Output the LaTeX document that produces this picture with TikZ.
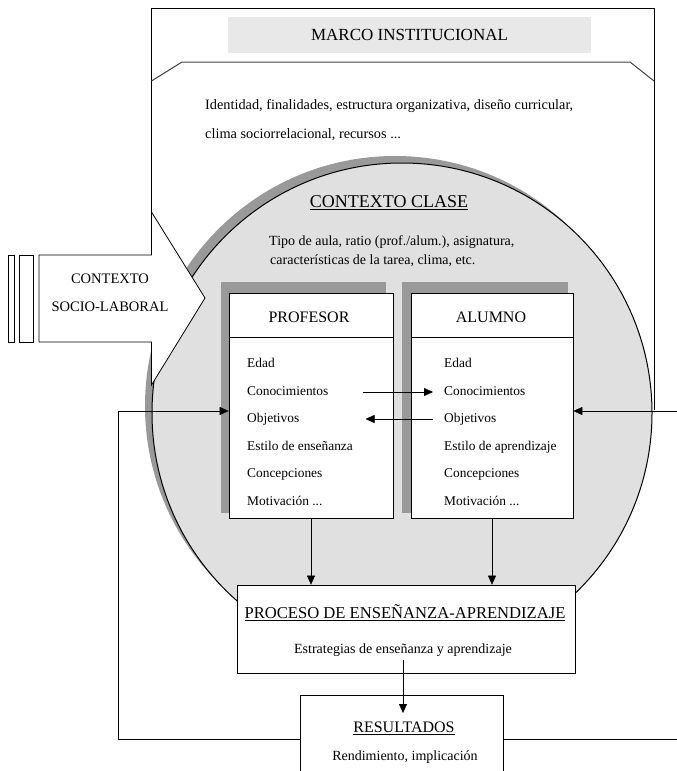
\documentclass[tikz,border=0pt]{standalone}
\usepackage{fontspec}
\setmainfont{Liberation Serif}
\usetikzlibrary{arrows.meta}
\definecolor{sombra}{gray}{0.6}
\definecolor{fondo}{gray}{0.88}
\definecolor{titulo}{gray}{0.91}
\begin{document}
\begin{tikzpicture}[x=1pt,y=-1pt,
    flecha/.style={-{Triangle[length=9pt,width=8pt]}},
    caja/.style={draw,fill=white,line width=0.8pt},
    item/.style={anchor=west,inner sep=0pt,text height=9pt,text depth=3pt,font=\fontsize{13.4}{15}\selectfont},
    titulo/.style={font=\fontsize{16}{18}\selectfont}]
\useasboundingbox (0,0) rectangle (677,771);

% marco institucional
\draw[line width=0.8pt] (151.5,212) -- (151.5,8) -- (654,8) -- (654,410);
\node[titulo,fill=titulo,minimum width=363pt,minimum height=36pt,font=\fontsize{17}{19}\selectfont] (marco) at (409.5,35) {MARCO INSTITUCIONAL};
\draw[line width=1pt,black!75] (151.5,81) -- (182,62) -- (630,62) -- (654,81);
\node[item,font=\fontsize{14.3}{16}\selectfont] (ident1) at (205,106) {Identidad, finalidades, estructura organizativa, diseño curricular,};
\node[item,font=\fontsize{14.3}{16}\selectfont] (ident2) at (205,135) {clima sociorrelacional, recursos ...};

% contexto clase
\fill[sombra] (395,406) circle (250);
\filldraw[fill=fondo,draw=black,line width=1pt] (402,413) circle (250);
\node[font=\fontsize{18}{20}\selectfont] (clase) at (389,203) {\underline{CONTEXTO CLASE}};
\node[item,font=\fontsize{14}{16}\selectfont] (tipo1) at (269,242) {Tipo de aula, ratio (prof./alum.), asignatura,};
\node[item,font=\fontsize{14}{16}\selectfont] (tipo2) at (270,261) {características de la tarea, clima, etc.};

% profesor
\fill[sombra] (221,282) rectangle (386,513);
\node[caja,minimum width=164pt,minimum height=225pt] (prof) at (311,405.5) {};
\coordinate (cab) at (0,337);
\draw (prof.west |- cab) -- (prof.east |- cab);
\node[titulo] (profT) at (309,317) {PROFESOR};
\node[item] (pedad) at (247,364) {Edad};
\node[item] (pcon) at (247,392) {Conocimientos};
\node[item] (pobj) at (247,419) {Objetivos};
\node[item] (pest) at (247,447) {Estilo de enseñanza};
\node[item] (pcnc) at (247,474) {Concepciones};
\node[item] (pmot) at (247,502) {Motivación ...};

% alumno
\fill[sombra] (402,282) rectangle (568,513);
\node[caja,minimum width=162pt,minimum height=225pt] (alum) at (492,405.5) {};
\draw (alum.west |- cab) -- (alum.east |- cab);
\node[titulo] (alumT) at (491,317) {ALUMNO};
\node[item] (aedad) at (444,364) {Edad};
\node[item] (acon) at (444,392) {Conocimientos};
\node[item] (aobj) at (444,419) {Objetivos};
\node[item] (aest) at (444,447) {Estilo de aprendizaje};
\node[item] (acnc) at (444,474) {Concepciones};
\node[item] (amot) at (444,502) {Motivación ...};

\draw[flecha] (pcon.east) [shorten <=34pt,shorten >=11pt] -- (acon.west);
\draw[flecha] (aobj.west) [shorten <=11pt,shorten >=66pt] -- (pobj.east);

% contexto socio-laboral
\draw[fill=white,line width=0.8pt] (39,255) -- (151.5,255) -- (151.5,212) -- (205,298)
    -- (151.5,385) -- (151.5,342) -- (39,342) -- cycle;
\draw (8,255) rectangle (14,342);
\draw (19,255) rectangle (33,342);
\node[align=center,font=\fontsize{14.5}{28}\selectfont] (socio) at (110,293) {CONTEXTO\\SOCIO-LABORAL};

% proceso y resultados
\node[caja,minimum width=338pt,minimum height=88pt] (proceso) at (406,629) {};
\node[titulo,font=\fontsize{16.6}{18}\selectfont] (procT) at (405,613) {\underline{PROCESO DE ENSEÑANZA-APRENDIZAJE}};
\node[font=\fontsize{14}{16}\selectfont] (estr) at (403,650) {Estrategias de enseñanza y aprendizaje};
\node[caja,minimum width=203pt,minimum height=100pt,anchor=north] (resul) at (401.5,695) {};
\node[titulo] (resT) at (404,728) {\underline{RESULTADOS}};
\node[font=\fontsize{14}{16}\selectfont] (rend) at (405,757) {Rendimiento, implicación};

\draw[flecha] (prof.south) -- (prof.south |- proceso.north);
\draw[flecha] (alum.south) -- (alum.south |- proceso.north);
\coordinate (puntares) at (0,713);
\draw[flecha] (estr.south) -- (estr.south |- puntares);

% retroalimentacion
\coordinate (izqabajo) at (118,739);
\coordinate (izqarriba) at (118,411);
\coordinate (derabajo) at (677,739);
\coordinate (derarriba) at (677,411);
\draw[flecha] (resul.west |- izqabajo) -- (izqabajo) -- (izqarriba) -- (prof.west |- izqarriba);
\draw (resul.east |- derabajo) -- (derabajo);
\draw[flecha] (derarriba) -- (alum.east |- derarriba);
\end{tikzpicture}
\end{document}
